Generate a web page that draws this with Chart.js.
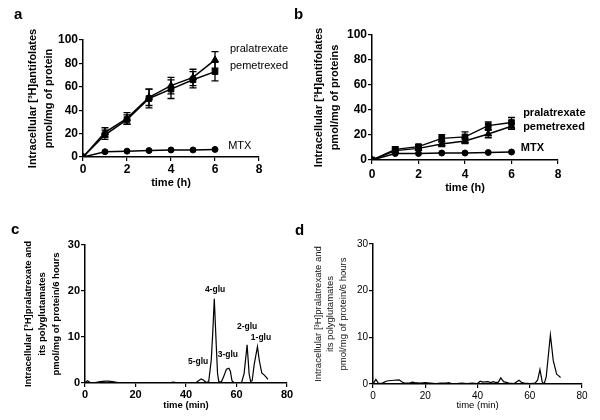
<!DOCTYPE html>
<html>
<head>
<meta charset="utf-8">
<script src="https://cdn.jsdelivr.net/npm/chart.js@4.4.1/dist/chart.umd.min.js"></script>
<style>
  body { margin: 0; background: #fff; }
  #wrap { position: relative; width: 600px; height: 420px; font-family: 'Liberation Sans', Arial, sans-serif; }
  .pane { position: absolute; }
  .tag  { position: absolute; font-weight: bold; font-size: 15px; line-height: 15px; }
</style>
</head>
<body>
<div id="wrap">
  <div class="pane" style="left:0;top:0"><canvas id="chart-a" width="300" height="200"></canvas></div>
  <div class="pane" style="left:300px;top:0"><canvas id="chart-b" width="300" height="200"></canvas></div>
  <div class="pane" style="left:0;top:200px"><canvas id="chart-c" width="300" height="220"></canvas></div>
  <div class="pane" style="left:300px;top:200px"><canvas id="chart-d" width="300" height="220"></canvas></div>
  <div class="tag" style="left:14px;top:6px">a</div>
  <div class="tag" style="left:294px;top:6px">b</div>
  <div class="tag" style="left:11px;top:221px">c</div>
  <div class="tag" style="left:295px;top:222px">d</div>
</div>
<script>
// ── Data: uptake over time (panels a, b) ─────────────────────
const hours = [0, 1, 2, 3, 4, 5, 6];

const aPrala    = [0, 21, 33, 51, 61, 68, 83];
const aPralaErr = [0, 4, 5, 7, 7, 7, 7];
const aPeme     = [0, 19, 32, 50, 58, 66, 73];
const aPemeErr  = [0, 4, 4, 8, 8, 7, 8];
const aMtx      = [0, 4.5, 5, 5.5, 6, 6, 6.5];

const bPrala    = [0, 8.5, 10.7, 17.3, 18.5, 27.5, 30];
const bPralaErr = [0, 2, 1.5, 3, 4, 3, 4];
const bPeme     = [0, 7.5, 9.3, 12.8, 15.2, 20.8, 27];
const bPemeErr  = [0, 1.5, 1.5, 2, 2, 3, 2.5];
const bMtx      = [0, 5.2, 5.2, 5.6, 5.6, 6, 6.4];

// ── Data: HPLC traces (panels c, d) ──────────────────────────
const cTime   = [0, 1, 2, 3, 4, 5, 6, 7, 8, 9, 10, 11, 12, 13, 14, 16, 18, 20, 22, 24, 26, 28, 30, 32, 34, 35, 36, 38, 40, 42, 44, 45, 46, 47, 48, 49, 50, 50.6, 51.2, 52, 52.5, 53, 54, 55, 56, 57, 57.6, 58.2, 59, 60, 62, 63, 64.2, 65, 65.6, 66.2, 67, 68.3, 69, 70, 71, 72, 72.4];
const cSignal = [0.1, 0.5, 0.1, 0, 0.1, 0.2, 0.3, 0.35, 0.4, 0.4, 0.35, 0.3, 0.2, 0.1, 0.05, 0.05, 0.1, 0, 0.1, 0.05, 0, 0.1, 0.05, 0, 0.1, 0.2, 0.1, 0, 0.1, 0.05, 0.1, 0.5, 0.9, 0.6, 0.1, 0.3, 5, 11, 18.3, 8, 2, 0.3, 0.2, 1.5, 3, 3.2, 2.5, 0.5, 0.1, 0.1, 0.1, 2, 8.3, 2, 0.3, 0.5, 4, 7.9, 5, 2.2, 1.7, 1.1, 0.8];

const dTime   = [0, 1.1, 2, 3, 4, 5, 6, 8, 10, 11, 12, 14, 15, 16, 18, 20, 22, 24, 26, 28, 29, 30, 32, 34, 36, 38, 40, 41, 42, 44, 45, 46, 47, 48, 48.9, 50, 52, 54, 55.9, 57, 58, 60, 62, 63, 63.9, 64.8, 65.5, 66.3, 67.9, 69, 70.3, 71, 71.8];
const dSignal = [0, 1, 0.2, 0.1, 0.3, 0.6, 0.7, 0.8, 0.9, 0.5, 0.2, 0.2, 0.4, 0.3, 0.2, 0.3, 0.2, 0.1, 0.2, 0.2, 0.3, 0.1, 0.1, 0.2, 0.1, 0.2, 0.1, 0.6, 0.4, 0.5, 0.3, 0.5, 0.3, 0.4, 1.3, 0.5, 0.2, 0.1, 0.8, 0.3, 0.2, 0.1, 0.2, 0.8, 3.1, 0.4, 0, 1.5, 10.5, 5, 2.1, 1.8, 1.4];

const FONT = "'Liberation Sans', Arial, sans-serif";

// ── Plugins ──────────────────────────────────────────────────
const errorBars = {
  id: 'errorBars',
  afterDatasetsDraw(chart) {
    const { ctx, scales: { x, y } } = chart;
    ctx.save();
    ctx.strokeStyle = '#000';
    ctx.lineWidth = 1.3;
    chart.data.datasets.forEach(ds => {
      if (!ds.errors) return;
      ds.data.forEach((p, i) => {
        const e = ds.errors[i];
        if (!e) return;
        const px  = x.getPixelForValue(p.x);
        const top = y.getPixelForValue(p.y + e);
        const bot = y.getPixelForValue(p.y - e);
        ctx.beginPath();
        ctx.moveTo(px, top); ctx.lineTo(px, bot);
        ctx.moveTo(px - 3.5, top); ctx.lineTo(px + 3.5, top);
        ctx.moveTo(px - 3.5, bot); ctx.lineTo(px + 3.5, bot);
        ctx.stroke();
      });
    });
    ctx.restore();
  }
};

const notes = {
  id: 'notes',
  afterDraw(chart, args, opts) {
    const { ctx, scales: { x, y } } = chart;
    ctx.save();
    ctx.font = opts.font;
    ctx.fillStyle = '#000';
    ctx.textBaseline = 'middle';
    (opts.items || []).forEach(n => {
      ctx.textAlign = n.align || 'left';
      ctx.fillText(n.text, x.getPixelForValue(n.x), y.getPixelForValue(n.y));
    });
    ctx.restore();
  }
};

Chart.register(errorBars, notes);

const pts = (xs, ys) => xs.map((v, i) => ({ x: v, y: ys[i] }));

function series(xs, ys, style, errs) {
  return {
    data: pts(xs, ys),
    errors: errs,
    borderColor: '#000',
    backgroundColor: '#000',
    borderWidth: 1.5,
    pointStyle: style,
    pointRadius: style === 'circle' ? 3 : 4,
    pointBorderWidth: 1,
    tension: 0,
  };
}

function trace(xs, ys) {
  return {
    data: pts(xs, ys),
    borderColor: '#000',
    borderWidth: 1.2,
    pointRadius: 0,
    tension: 0,
  };
}

function panel(id, datasets, o) {
  const axisGrid = { drawOnChartArea: false, drawTicks: true, tickLength: 4, color: '#000', lineWidth: 1.2 };
  const axisBorder = { display: true, color: '#000', width: 1.5 };
  return new Chart(document.getElementById(id), {
    type: 'line',
    data: { datasets },
    options: {
      responsive: false,
      animation: false,
      layout: { padding: { top: o.top, right: o.right, left: 0, bottom: 0 } },
      plugins: {
        legend: { display: false },
        tooltip: { enabled: false },
        notes: { items: o.notes || [], font: o.noteFont },
      },
      scales: {
        x: {
          type: 'linear', min: 0, max: o.xMax,
          afterFit: s => { s.height = o.xH; },
          grid: axisGrid, border: axisBorder,
          ticks: { stepSize: o.xStep, color: '#000', padding: o.xTickPad, font: o.tickFont },
          title: { display: true, text: o.xTitle, color: '#000', font: o.xTitleFont, padding: { top: 0, bottom: o.xTitlePad } },
        },
        y: {
          type: 'linear', min: 0, max: o.yMax,
          afterFit: s => { s.width = o.left; },
          grid: axisGrid, border: axisBorder,
          ticks: { stepSize: o.yStep, color: '#000', padding: 1, font: o.tickFont },
          title: { display: true, text: o.yTitle, color: o.yTitleColor || '#000', font: o.yTitleFont, padding: { top: o.yTitlePad, bottom: 0 } },
        },
      },
    },
  });
}

// ── Panel a ──────────────────────────────────────────────────
panel('chart-a', [
  series(hours, aPrala, 'triangle', aPralaErr),
  series(hours, aPeme,  'rect',     aPemeErr),
  series(hours, aMtx,   'circle'),
], {
  left: 83, top: 40, right: 41, xH: 43,
  xMax: 8, xStep: 2, yMax: 100, yStep: 20,
  tickFont: { family: FONT, size: 12, weight: 'bold' },
  xTickPad: 1,
  xTitle: 'time (h)', xTitleFont: { family: FONT, size: 11, weight: 'bold', lineHeight: 1.3 }, xTitlePad: 10,
  yTitle: ['Intracellular [³H]antifolates', 'pmol/mg of protein'],
  yTitleFont: { family: FONT, size: 11, weight: 'bold', lineHeight: 1.5 }, yTitlePad: 24.5,
  noteFont: `11px ${FONT}`,
  notes: [
    { text: 'pralatrexate', x: 6.68, y: 92.3 },
    { text: 'pemetrexed',   x: 6.68, y: 77.8 },
    { text: 'MTX',          x: 6.6,  y: 9.4 },
  ],
});

// ── Panel b ──────────────────────────────────────────────────
panel('chart-b', [
  series(hours, bPrala, 'rect',     bPralaErr),
  series(hours, bPeme,  'triangle', bPemeErr),
  series(hours, bMtx,   'circle'),
], {
  left: 72, top: 35, right: 42, xH: 40,
  xMax: 8, xStep: 2, yMax: 100, yStep: 20,
  tickFont: { family: FONT, size: 12, weight: 'bold' },
  xTickPad: 3,
  xTitle: 'time (h)', xTitleFont: { family: FONT, size: 11, weight: 'bold', lineHeight: 1.3 }, xTitlePad: 5,
  yTitle: ['Intracellular [³H]antifolates', 'pmol/mg of proteins'],
  yTitleFont: { family: FONT, size: 11, weight: 'bold', lineHeight: 1.4 }, yTitlePad: 11.5,
  noteFont: `bold 11px ${FONT}`,
  notes: [
    { text: 'pralatrexate', x: 6.5, y: 37.6 },
    { text: 'pemetrexed',   x: 6.5, y: 26.4 },
    { text: 'MTX',          x: 6.4, y: 9.6 },
  ],
});

// ── Panel c ──────────────────────────────────────────────────
panel('chart-c', [trace(cTime, cSignal)], {
  left: 85, top: 45, right: 13, xH: 37,
  xMax: 80, xStep: 20, yMax: 30, yStep: 10,
  tickFont: { family: FONT, size: 11, weight: 'bold' },
  xTickPad: 1,
  xTitle: 'time (min)', xTitleFont: { family: FONT, size: 9.5, weight: 'bold', lineHeight: 1.3 }, xTitlePad: 8,
  yTitle: ['Intracellular [³H]pralatrexate and', 'its polyglutamates', 'pmol/mg of protein/6 hours'],
  yTitleFont: { family: FONT, size: 9.5, weight: 'bold', lineHeight: 1.47 }, yTitlePad: 21,
  noteFont: `bold 8.5px ${FONT}`,
  notes: [
    { text: '4-glu', x: 51.5, y: 20.4, align: 'center' },
    { text: '5-glu', x: 44.8, y: 4.6,  align: 'center' },
    { text: '3-glu', x: 56.6, y: 6.1,  align: 'center' },
    { text: '2-glu', x: 64.2, y: 12.2, align: 'center' },
    { text: '1-glu', x: 69.7, y: 9.8,  align: 'center' },
  ],
});

// ── Panel d ──────────────────────────────────────────────────
panel('chart-d', [trace(dTime, dSignal)], {
  left: 73, top: 44, right: 18, xH: 36,
  xMax: 80, xStep: 20, yMax: 30, yStep: 10,
  tickFont: { family: FONT, size: 10 },
  xTickPad: 2,
  xTitle: 'time (min)', xTitleFont: { family: FONT, size: 9.5, lineHeight: 1.3 }, xTitlePad: 8,
  yTitle: ['Intracellular [³H]pralatrexate and', 'its polyglutamates', 'pmol/mg of protein/6 hours'],
  yTitleColor: '#111',
  yTitleFont: { family: FONT, size: 9.5, lineHeight: 1.32 }, yTitlePad: 12,
});
</script>
</body>
</html>
